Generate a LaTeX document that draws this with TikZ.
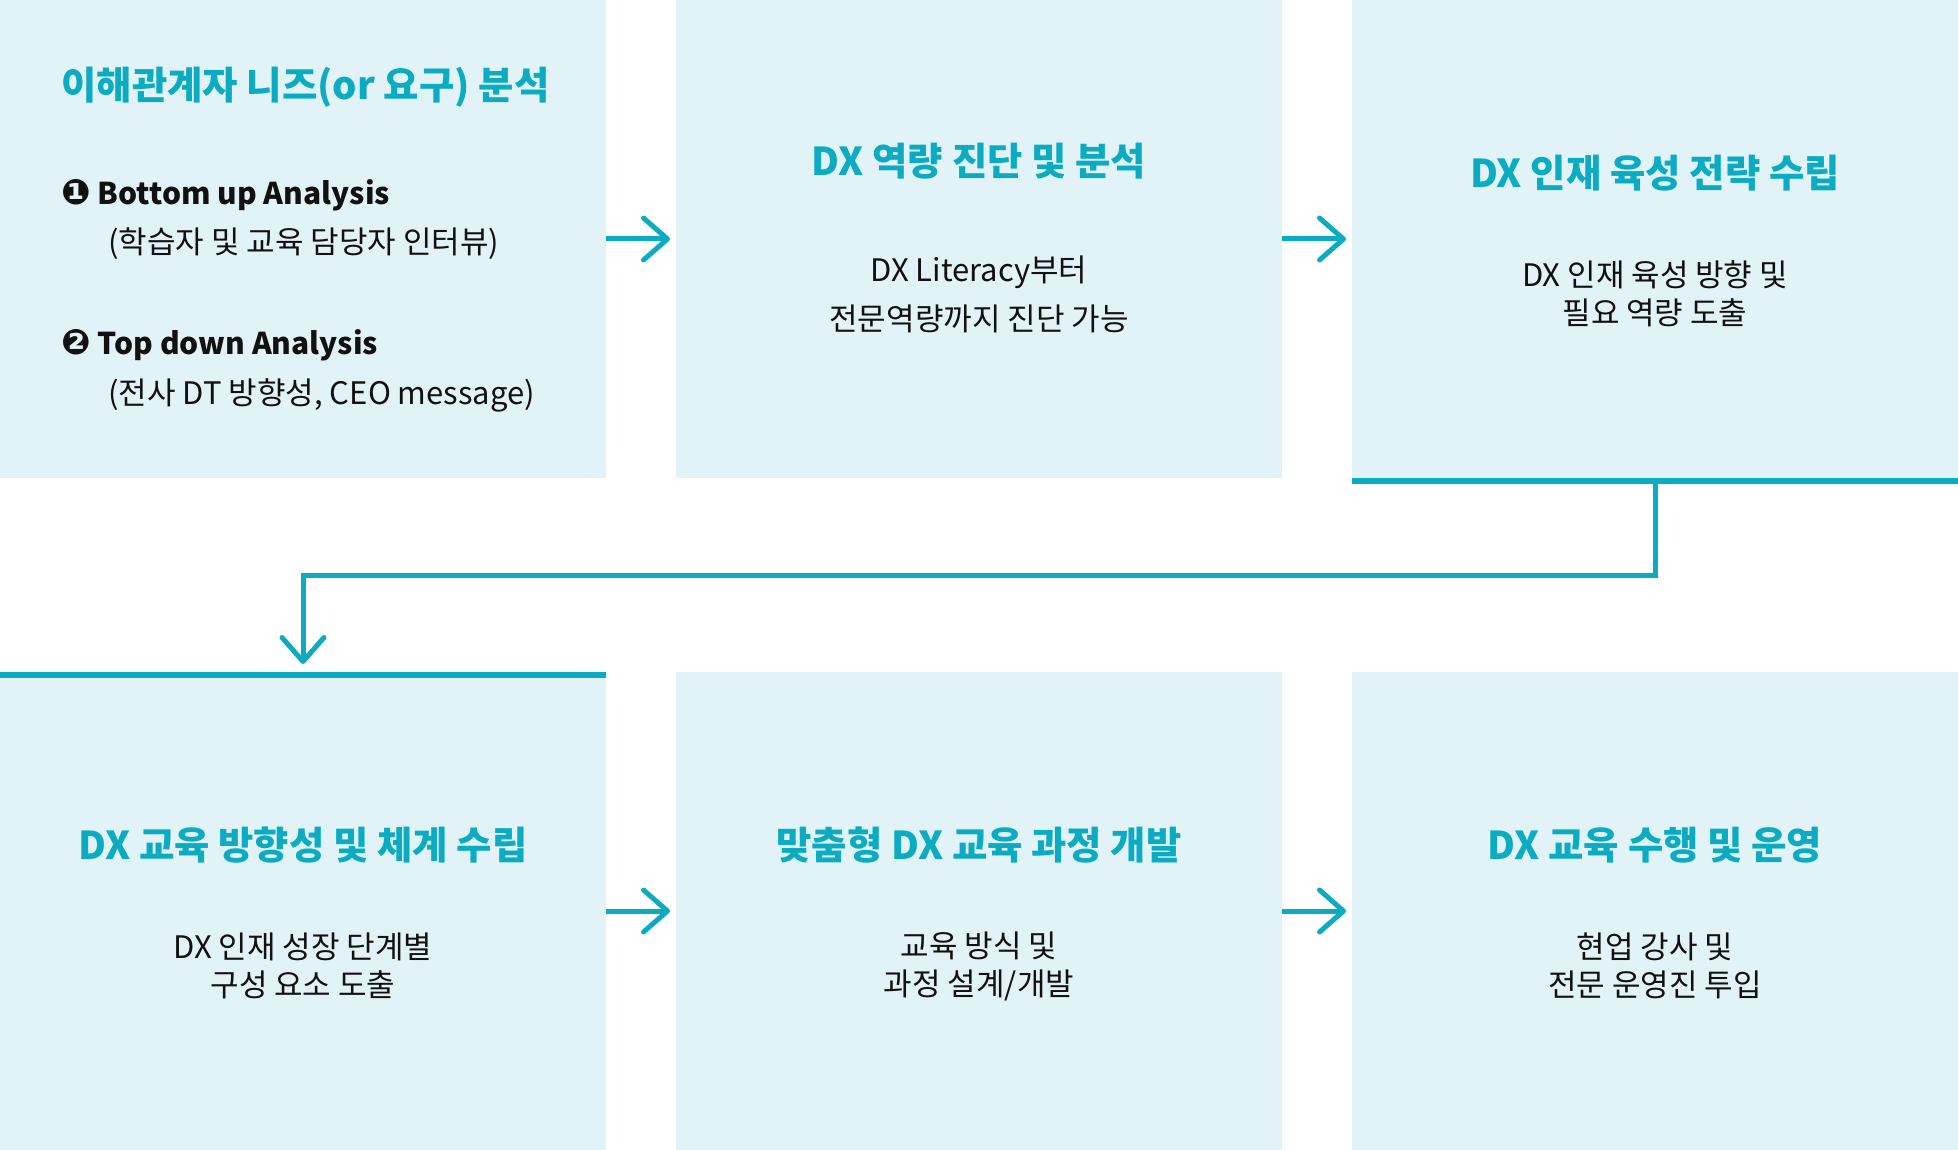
\documentclass[tikz,border=0pt]{standalone}
\usepackage{fontspec}
\setmainfont{Noto Sans CJK KR}
\newfontfamily\symfont{DejaVu Sans}
\usetikzlibrary{positioning, arrows.meta}

\definecolor{dxteal}{HTML}{0BABC1}
\definecolor{dxfill}{HTML}{E2F3F8}
\definecolor{dxtext}{HTML}{111111}

\begin{document}
\begin{tikzpicture}[
        node distance=97pt and 35pt,
        stepbox/.style={rectangle, fill=dxfill, minimum width=303pt, minimum height=239pt, inner sep=0pt, outer sep=0pt},
        steptitle/.style={font=\bfseries\fontsize{19.2pt}{23pt}\selectfont, text=dxteal, align=center, inner sep=0pt},
        steptext/.style={font=\fontsize{15.5pt}{19pt}\selectfont, text=dxtext, align=center, inner sep=0pt},
        itemhead/.style={font=\bfseries\fontsize{15pt}{19pt}\selectfont, text=dxtext, inner sep=0pt},
        flow/.style={draw=dxteal, line width=2.5pt, -{Straight Barb[length=12pt, width=21pt, round]}},
        bar/.style={draw=dxteal, line width=3pt}
    ]
        % boxes
        \node[stepbox] (step1) {};
        \node[stepbox, right=of step1] (step2) {};
        \node[stepbox, right=of step2] (step3) {};
        \node[stepbox, below=of step1] (step4) {};
        \node[stepbox, right=of step4] (step5) {};
        \node[stepbox, right=of step5] (step6) {};
        \useasboundingbox (step1.north west) rectangle (step6.south east);

        % step 1
        \node[steptitle, anchor=west] (title1) at ([shift={(30.5pt,-43.5pt)}]step1.north west) {이해관계자 니즈(or 요구) 분석};
        \node[itemhead, anchor=west] (item1) at ([shift={(30.5pt,-97.5pt)}]step1.north west) {{\symfont\fontsize{17.5pt}{19pt}\selectfont ❶} Bottom up Analysis};
        \node[steptext, anchor=west] (note1) at ([shift={(54pt,-122pt)}]step1.north west) {(학습자 및 교육 담당자 인터뷰)};
        \node[itemhead, anchor=west] (item2) at ([shift={(30.5pt,-172.5pt)}]step1.north west) {{\symfont\fontsize{17.5pt}{19pt}\selectfont ❷} Top down Analysis};
        \node[steptext, anchor=west] (note2) at ([shift={(54pt,-197.5pt)}]step1.north west) {(전사 DT 방향성, CEO message)};

        % step 2
        \node[steptitle] (title2) at ([yshift=-80.5pt]step2.north) {DX 역량 진단 및 분석};
        \node[steptext, font=\fontsize{15.5pt}{24.5pt}\selectfont] (body2) at ([yshift=-147pt]step2.north) {DX Literacy부터\\전문역량까지 진단 가능};

        % step 3
        \node[steptitle] (title3) at ([yshift=-86.5pt]step3.north) {DX 인재 육성 전략 수립};
        \node[steptext] (body3) at ([yshift=-147pt]step3.north) {DX 인재 육성 방향 및\\필요 역량 도출};

        % step 4
        \node[steptitle] (title4) at ([yshift=-86.5pt]step4.north) {DX 교육 방향성 및 체계 수립};
        \node[steptext] (body4) at ([yshift=-147pt]step4.north) {DX 인재 성장 단계별\\구성 요소 도출};

        % step 5
        \node[steptitle] (title5) at ([yshift=-86.5pt]step5.north) {맞춤형 DX 교육 과정 개발};
        \node[steptext] (body5) at ([yshift=-147pt]step5.north) {교육 방식 및\\과정 설계/개발};

        % step 6
        \node[steptitle] (title6) at ([yshift=-86.5pt]step6.north) {DX 교육 수행 및 운영};
        \node[steptext] (body6) at ([yshift=-147pt]step6.north) {현업 강사 및\\전문 운영진 투입};

        % bars
        \draw[bar] ([yshift=-1.5pt]step3.south west) -- ([yshift=-1.5pt]step3.south east);
        \draw[bar] ([yshift=-1.5pt]step4.north west) -- ([yshift=-1.5pt]step4.north east);

        % arrows
        \draw[flow] (step1.east) -- ([xshift=-3pt]step2.west);
        \draw[flow] (step2.east) -- ([xshift=-3pt]step3.west);
        \draw[flow] (step4.east) -- ([xshift=-3pt]step5.west);
        \draw[flow] (step5.east) -- ([xshift=-3pt]step6.west);
        \draw[flow] (step3.south) -- ++(0,-48.5pt) -| ([yshift=4pt]step4.north);
    \end{tikzpicture}
\end{document}
